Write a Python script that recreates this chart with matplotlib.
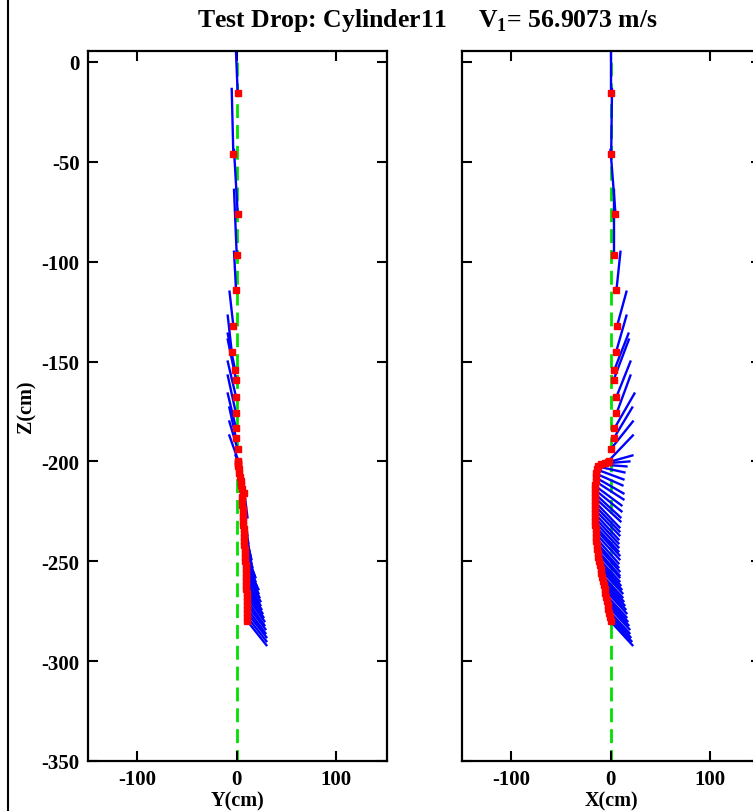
import matplotlib
matplotlib.use("Agg")
import matplotlib.pyplot as plt
from matplotlib.lines import Line2D

# ---- data (cm) : red dot = one end of the cylinder, tip = other end ----
z_dot = [-15.7, -46.0, -76.0, -96.5, -114.0, -132.0, -145.0, -154.0, -159.0, -167.6,
         -176.0, -183.4, -188.4, -194.0, -199.6,
         -200.5, -201.0, -201.5, -202.5, -204.0, -206.0, -208.0, -210.0, -212.0, -214.0,
         -216.0, -218.0, -220.0, -222.0, -224.0, -226.0, -228.0, -230.0, -232.0, -234.0,
         -236.0, -238.0, -240.0, -242.0, -244.0, -246.0, -248.0, -250.0, -252.0, -254.0,
         -256.0, -258.0, -260.0, -262.0, -264.0, -266.0, -268.0, -270.0, -272.0, -274.0,
         -276.0, -278.0, -280.0]
x_dot = [0.0, 0.7, 5.0, 3.3, 6.0, 6.7, 5.7, 4.0, 3.3, 6.0,
         6.0, 4.0, 3.3, 0.0, -1.7,
         -3.0, -6.0, -10.0, -13.0, -14.0, -15.0, -15.0, -15.0, -16.0, -16.0,
         -16.0, -16.0, -16.0, -16.0, -16.0, -16.0, -16.0, -16.0, -16.0, -15.0,
         -15.0, -15.0, -15.0, -14.0, -14.0, -13.0, -13.0, -12.0, -11.0, -10.0,
         -10.0, -9.0, -8.0, -7.0, -6.0, -6.0, -5.0, -4.0, -3.0, -3.0,
         -2.0, -1.0, 0.0]
y_dot = [1.2, -3.2, 1.2, 0.2, -0.5, -3.2, -4.8, -1.5, -0.5, -0.5,
         -0.5, -0.5, -0.5, 1.2, 1.8,
         2.0, 2.0, 2.0, 2.0, 3.0, 3.0, 4.0, 5.0, 5.0, 6.0,
         8.0, 6.0, 6.0, 6.0, 7.0, 7.0, 7.0, 7.0, 7.0, 8.0,
         8.0, 8.0, 8.0, 8.0, 9.0, 9.0, 9.0, 9.0, 10.0, 10.0,
         10.0, 10.0, 10.0, 10.0, 10.0, 11.0, 11.0, 11.0, 11.0, 11.0,
         11.0, 11.0, 11.0]
z_tip = [17.0, -13.5, -44.0, -64.0, -95.0, -115.0, -127.0, -136.0, -139.0, -150.0,
         -157.0, -166.0, -173.0, -180.0, -187.0,
         -197.0, -200.0, -202.5, -205.5, -209.0, -212.0, -216.0, -219.0, -222.0, -225.0,
         -228.0, -230.0, -233.0, -235.0, -237.0, -239.0, -241.0, -243.0, -245.0, -247.0,
         -249.0, -251.0, -253.0, -255.0, -257.0, -258.0, -260.0, -262.0, -264.0, -266.0,
         -268.0, -270.0, -272.0, -274.0, -276.0, -278.0, -280.0, -282.0, -284.0, -286.0,
         -288.0, -290.0, -292.0]
x_tip = [0.0, 1.5, 0.0, 3.3, 10.0, 16.0, 16.0, 18.0, 18.4, 20.0,
         20.0, 24.0, 21.8, 22.4, 22.4,
         22.0, 19.0, 16.0, 14.0, 13.0, 12.0, 13.0, 13.0, 11.0, 11.0,
         10.0, 10.0, 9.0, 9.0, 9.0, 8.0, 8.0, 8.0, 8.0, 9.0,
         9.0, 8.0, 8.0, 9.0, 9.0, 9.0, 9.0, 10.0, 11.0, 12.0,
         12.0, 13.0, 14.0, 15.0, 16.0, 16.0, 17.0, 18.0, 19.0, 19.0,
         20.0, 21.0, 22.0]
y_tip = [-1.5, -4.8, -2.5, -2.5, -2.5, -7.0, -8.8, -8.8, -8.8, -8.8,
         -8.8, -8.8, -7.2, -7.2, -7.2,
         -1.0, 0.0, 1.0, 1.0, 3.0, 3.0, 5.0, 6.0, 7.0, 8.0,
         11.0, 9.0, 9.0, 10.0, 11.0, 11.0, 12.0, 12.0, 13.0, 14.0,
         15.0, 15.0, 16.0, 16.0, 18.0, 19.0, 19.0, 20.0, 22.0, 22.0,
         23.0, 24.0, 24.0, 25.0, 26.0, 27.0, 28.0, 28.0, 29.0, 29.0,
         30.0, 30.0, 30.0]

title_text = "Test Drop: Cylinder11     V$_\\mathbf{1}$= 56.9073 m/s"
xticks = [-100, 0, 100]
zticks = [0, -50, -100, -150, -200, -250, -300, -350]

plt.rcParams['font.family'] = ['Liberation Serif', 'DejaVu Serif']
plt.rcParams['font.weight'] = 'bold'
plt.rcParams['axes.unicode_minus'] = False
plt.rcParams['mathtext.fontset'] = 'custom'
plt.rcParams['mathtext.rm'] = 'Liberation Serif:bold'
plt.rcParams['mathtext.bf'] = 'Liberation Serif:bold'

fig = plt.figure(figsize=(7.53, 8.12), dpi=100)
W, H = 753.0, 812.0
axL = fig.add_axes([88 / W, 50 / H, 299 / W, 710 / H])
axR = fig.add_axes([462 / W, 50 / H, 299 / W, 710 / H])

panels = [(axL, y_dot, y_tip, "Y(cm)"), (axR, x_dot, x_tip, "X(cm)")]
for ax, h_dot, h_tip, lab in panels:
    ax.plot([0, 0], [0, -350], color='#00e000', lw=2, dashes=(5, 2.5), zorder=1)
    for hd, zd, ht, zt in zip(h_dot, z_dot, h_tip, z_tip):
        ax.plot([hd, ht], [zd, zt], color='#0000ff', lw=1.7, zorder=2)
    ax.plot(h_dot, z_dot, linestyle='none', marker='s', ms=5, color='#ff0000',
            mec='#ff0000', zorder=3)
    ax.set_xlim(-149, 151)
    ax.set_ylim(-350, 5.5)
    ax.set_xticks(xticks)
    ax.set_yticks(zticks)
    ax.tick_params(direction='in', length=7, width=1.5, top=True, right=True,
                   labelsize=15, pad=6)
    for s in ax.spines.values():
        s.set_linewidth(1.6)
    ax.set_xlabel(lab, fontsize=14.5, fontweight='bold', labelpad=1)

axR.set_yticklabels([])
axL.set_ylabel("Z(cm)", fontsize=14.5, fontweight='bold', labelpad=4)

fig.text(427 / W, 1 - 20 / H, title_text, ha='center', va='center',
         fontsize=18.5, fontweight='bold')

fig.add_artist(Line2D([8 / W, 8 / W], [0, 1], transform=fig.transFigure,
                      color='black', lw=1.5))

fig.savefig("out.png", dpi=100)
